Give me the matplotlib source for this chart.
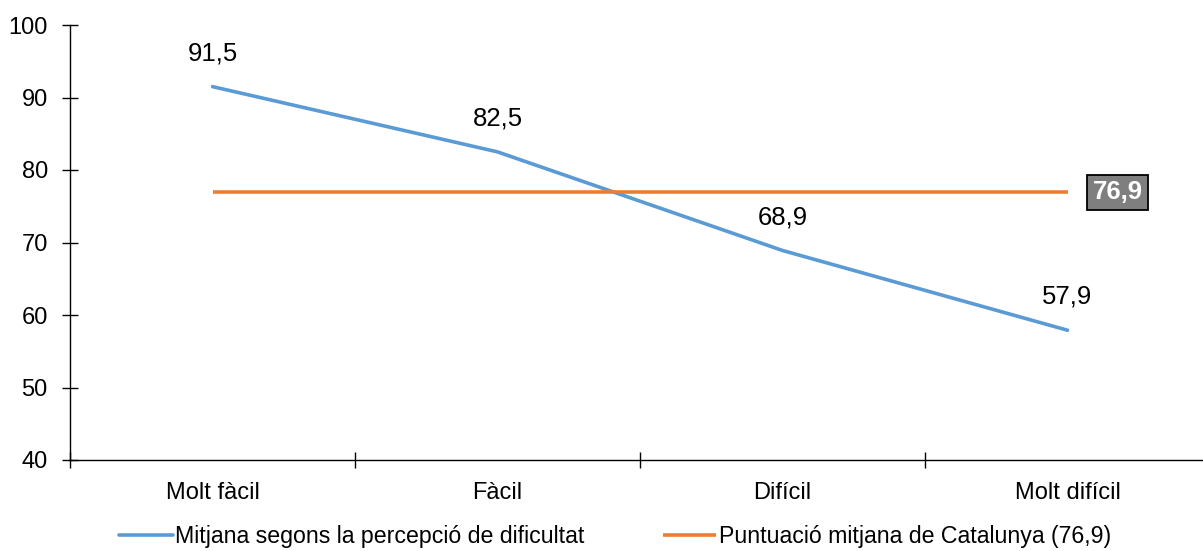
import numpy as np
import matplotlib.pyplot as plt

plt.rcParams['font.family'] = ['Liberation Sans', 'DejaVu Sans']

categories = ["Molt fàcil", "Fàcil", "Difícil", "Molt difícil"]
mitjana = [91.5, 82.5, 68.9, 57.9]
catalunya = 76.9
labels = ["Mitjana segons la percepció de dificultat",
          "Puntuació mitjana de Catalunya (76,9)"]

blue = "#5B9BD5"
orange = "#ED7D31"

fig = plt.figure(figsize=(12.03, 5.51), dpi=100)
ax = fig.add_axes([70/1203, 1-460/551, 1140/1203, 435/551])

x = np.arange(len(categories))
ax.plot(x, mitjana, color=blue, lw=2.6, label=labels[0], solid_capstyle='round')
ax.plot(x, [catalunya]*len(x), color=orange, lw=2.6, label=labels[1], solid_capstyle='butt')

for xi, v in zip(x, mitjana):
    ax.annotate(f"{v:.1f}".replace(".", ","), (xi, v), xytext=(0, 24),
                textcoords="offset points", ha="center", va="center", fontsize=18.5)

ax.annotate(f"{catalunya:.1f}".replace(".", ","), (x[-1], catalunya), xytext=(36, 0),
            textcoords="offset points", ha="center", va="center", fontsize=18.5,
            fontweight="bold", color="white",
            bbox=dict(boxstyle="square,pad=0.22", fc="#7f7f7f", ec="black", lw=1.3))

ax.set_xlim(-0.5, 3.5)
ax.set_ylim(40, 100)
ax.set_yticks(range(40, 101, 10))
ax.set_xticks(x)
ax.set_xticklabels(categories, fontsize=17)
ax.set_xticks(np.arange(-0.5, 4, 1), minor=True)
ax.tick_params(axis='x', which='major', length=0, pad=16)
ax.tick_params(axis='x', which='minor', direction='inout', length=12, width=1)
ax.tick_params(axis='y', direction='inout', length=12, width=1, labelsize=17, pad=10)

for s in ['top', 'right']:
    ax.spines[s].set_visible(False)
ax.spines['left'].set_linewidth(1)
ax.spines['bottom'].set_linewidth(1)

fig.legend(loc="center", bbox_to_anchor=(615/1203, 1-537/551), ncol=2, frameon=False,
           fontsize=16.7, handlelength=2.3, handletextpad=0.1, columnspacing=3.4)

fig.savefig("out.png", dpi=100)
